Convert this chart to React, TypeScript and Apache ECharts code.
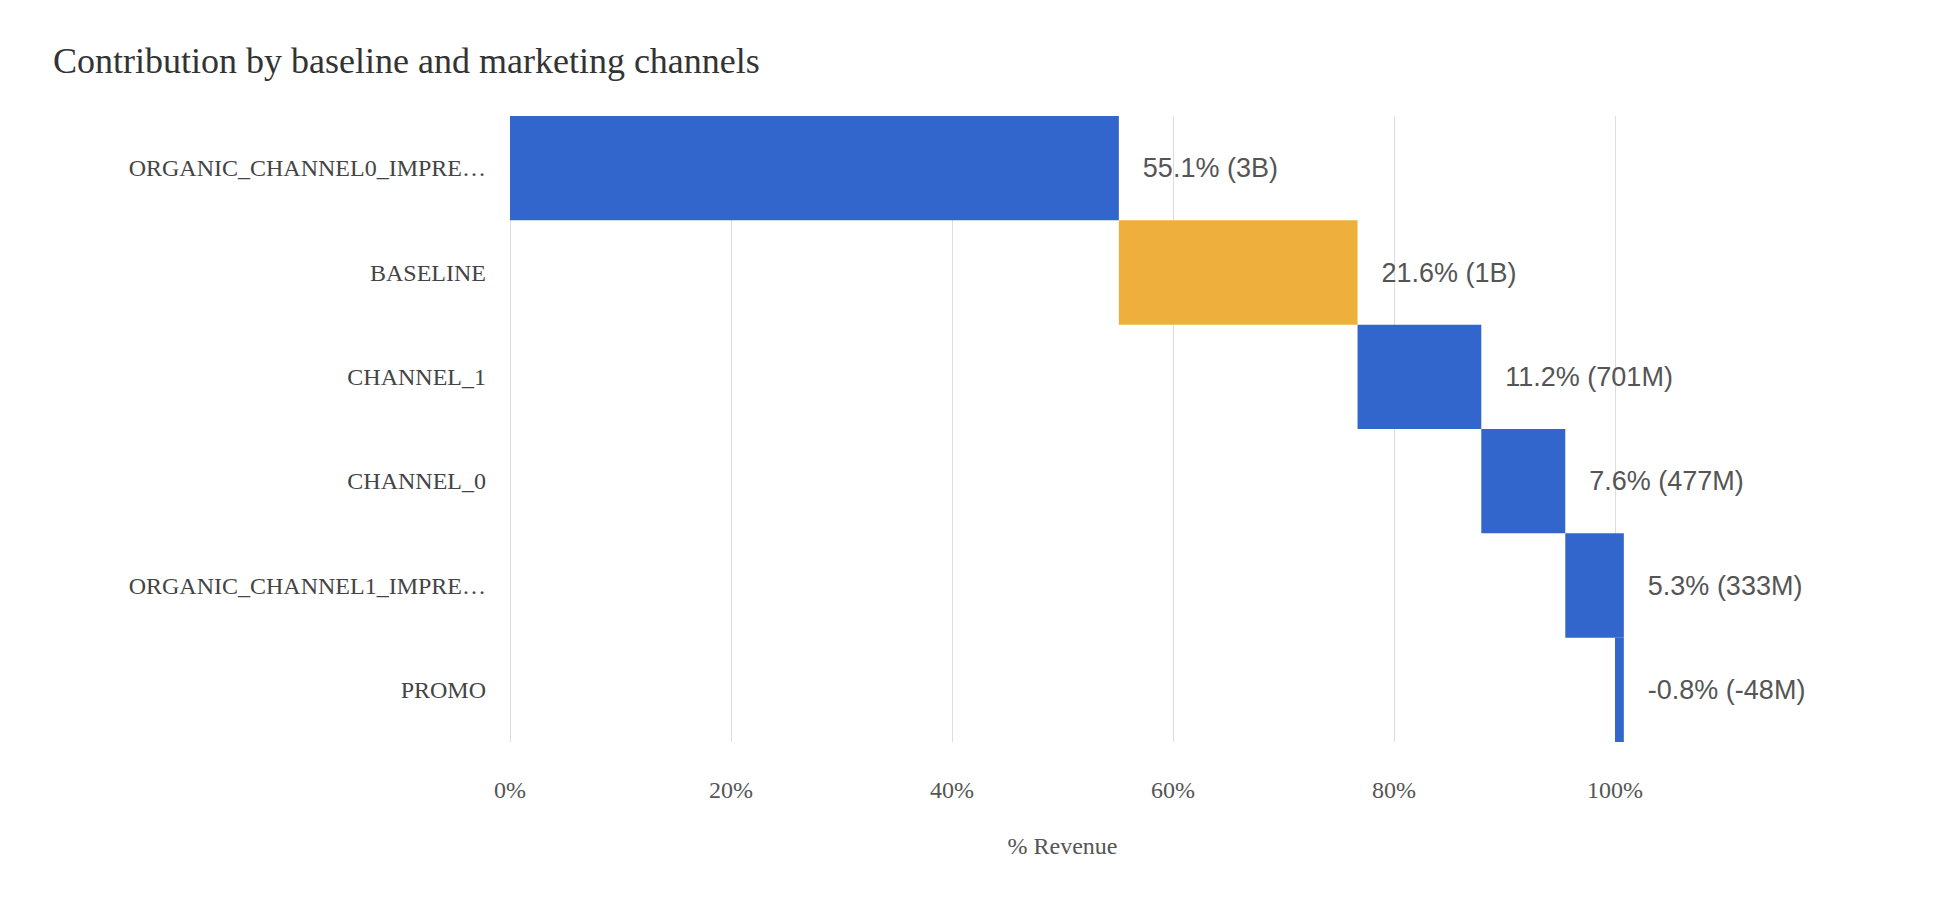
import { useEffect, useRef } from "react";
import * as echarts from "echarts";

const categories = ["ORGANIC_CHANNEL0_IMPRE…", "BASELINE", "CHANNEL_1", "CHANNEL_0", "ORGANIC_CHANNEL1_IMPRE…", "PROMO"];
const shares = [55.1, 21.6, 11.2, 7.6, 5.3, -0.8];
const amounts = ["3B", "1B", "701M", "477M", "333M", "-48M"];
const colors = ["#3366cc", "#efaf3c", "#3366cc", "#3366cc", "#3366cc", "#3366cc"];

export default function App() {
  const ref = useRef<HTMLDivElement>(null);

  useEffect(() => {
    const el = ref.current;
    if (!el) return;
    const chart = echarts.init(el, undefined, { renderer: "svg" });
    // waterfall: transparent base + visible step
    const bases: number[] = [];
    const sizes: number[] = [];
    let run = 0;
    shares.forEach((v) => {
      if (v >= 0) {
        bases.push(run);
        sizes.push(v);
      } else {
        bases.push(run + v);
        sizes.push(-v);
      }
      run += v;
    });
    const serif = "'Liberation Serif', 'DejaVu Serif', serif";
    chart.setOption({
      animation: false,
      title: {
        text: "Contribution by baseline and marketing channels",
        left: 40,
        top: 30,
        textStyle: { fontFamily: serif, fontSize: 36, fontWeight: "normal", color: "#333" },
      },
      grid: { left: 502, right: 323, top: 108, bottom: 154 },
      xAxis: {
        type: "value",
        min: 0,
        max: 100,
        interval: 20,
        name: "% Revenue",
        nameLocation: "middle",
        nameGap: 92,
        nameTextStyle: { fontFamily: serif, fontSize: 24, color: "#555" },
        axisLabel: { formatter: "{value}%", fontFamily: serif, fontSize: 24, color: "#555", margin: 36 },
        axisLine: { show: false },
        axisTick: { show: false },
        splitLine: { lineStyle: { color: "#dddddd" } },
      },
      yAxis: {
        type: "category",
        inverse: true,
        data: categories,
        axisLine: { show: false },
        axisTick: { show: false },
        axisLabel: { fontFamily: serif, fontSize: 24, color: "#444", margin: 24 },
      },
      series: [
        {
          type: "bar",
          stack: "w",
          data: bases,
          itemStyle: { color: "transparent" },
          barCategoryGap: 0,
          silent: true,
          clip: false,
        },
        {
          type: "bar",
          stack: "w",
          clip: false,
          data: sizes.map((s, i) => ({ value: s, itemStyle: { color: colors[i] } })),
          barCategoryGap: 0,
          label: {
            show: true,
            position: "right",
            distance: 24,
            fontFamily: "'Liberation Sans', Arial, sans-serif",
            fontSize: 27,
            color: "#555",
            formatter: (p: any) => `${shares[p.dataIndex].toFixed(1)}% (${amounts[p.dataIndex]})`,
          },
        },
      ],
    });
    return () => chart.dispose();
  }, []);

  return <div ref={ref} style={{ width: 1930, height: 888 }} />;
}
